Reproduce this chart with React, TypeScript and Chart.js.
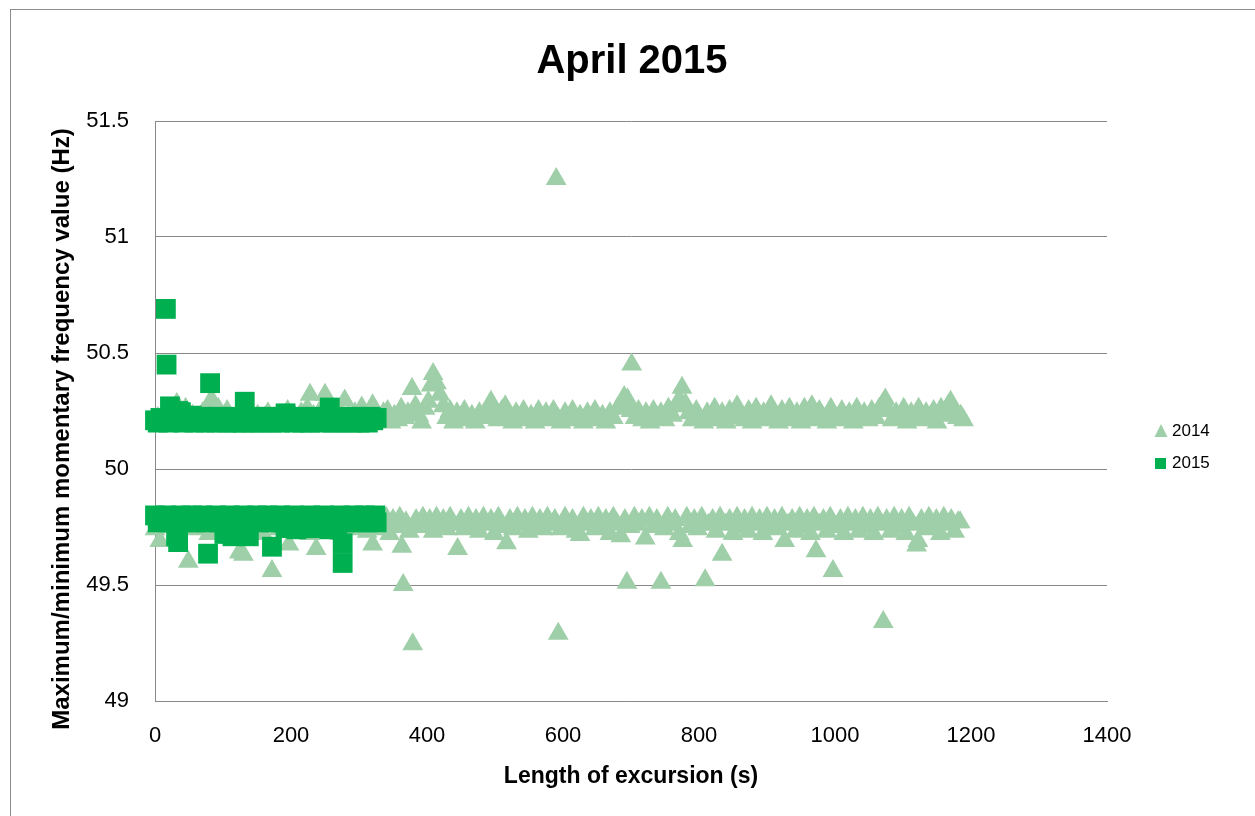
import { useEffect, useRef } from 'react';
import { Chart, registerables } from 'chart.js';

Chart.register(...registerables);

const FONT = '"Liberation Sans", Arial, sans-serif';

const chartTitle = 'April 2015';
const xAxisTitle = 'Length of excursion (s)';
const yAxisTitle = 'Maximum/minimum momentary frequency value (Hz)';
const seriesNames = ['2014', '2015'];
const seriesColors = ['#9ECFA8', '#00B050'];

const xTickValues = [0, 200, 400, 600, 800, 1000, 1200, 1400];
const yTickValues = [49, 49.5, 50, 50.5, 51, 51.5];

// 2014 – upper (maximum) band
const tri14High: [number, number][] = [
  [0, 50.2], [4, 50.22], [9, 50.21], [14, 50.2], [19, 50.23], [24, 50.21], [28, 50.24], [32, 50.28],
  [37, 50.22], [41, 50.2], [45, 50.26], [50, 50.21], [55, 50.23], [60, 50.2], [65, 50.22], [70, 50.24],
  [75, 50.21], [80, 50.27], [83, 50.3], [88, 50.22], [93, 50.26], [97, 50.2], [102, 50.23], [106, 50.25],
  [111, 50.21], [116, 50.2], [121, 50.23], [126, 50.21], [131, 50.24], [136, 50.2], [141, 50.22], [146, 50.21],
  [151, 50.23], [156, 50.2], [161, 50.22], [166, 50.24], [171, 50.21], [176, 50.2], [181, 50.23], [186, 50.21],
  [191, 50.22], [195, 50.25], [200, 50.2], [205, 50.23], [210, 50.21], [215, 50.24], [220, 50.22], [224, 50.26],
  [228, 50.32], [233, 50.23], [238, 50.21], [243, 50.24], [247, 50.27], [250, 50.32], [255, 50.22], [260, 50.2],
  [265, 50.24], [270, 50.21], [275, 50.23], [279, 50.295], [284, 50.22], [289, 50.2], [294, 50.24], [299, 50.21],
  [304, 50.265], [309, 50.22], [314, 50.2], [320, 50.275], [325, 50.23], [330, 50.21], [336, 50.24], [342, 50.25],
  [347, 50.2], [352, 50.23], [357, 50.21], [362, 50.26], [367, 50.22], [372, 50.24], [378, 50.345], [383, 50.27],
  [388, 50.23], [392, 50.2], [397, 50.26], [402, 50.29], [406, 50.36], [409, 50.41], [414, 50.37], [419, 50.32],
  [424, 50.27], [429, 50.22], [434, 50.25], [439, 50.2], [444, 50.24], [449, 50.22], [455, 50.25], [460, 50.21],
  [466, 50.23], [471, 50.2], [477, 50.24], [482, 50.22], [488, 50.25], [494, 50.29], [499, 50.23], [504, 50.21],
  [510, 50.25], [515, 50.27], [520, 50.22], [526, 50.2], [531, 50.24], [537, 50.22], [542, 50.25], [548, 50.21],
  [553, 50.23], [559, 50.2], [564, 50.25], [570, 50.22], [575, 50.24], [581, 50.21], [586, 50.25], [592, 50.22],
  [597, 50.2], [603, 50.24], [608, 50.22], [614, 50.25], [619, 50.21], [625, 50.23], [630, 50.2], [636, 50.24],
  [641, 50.22], [647, 50.25], [652, 50.21], [658, 50.23], [663, 50.2], [669, 50.24], [674, 50.22], [680, 50.26],
  [685, 50.28], [690, 50.31], [695, 50.3], [700, 50.25], [701, 50.45], [706, 50.22], [711, 50.25], [717, 50.21],
  [722, 50.24], [728, 50.2], [733, 50.25], [739, 50.22], [744, 50.24], [750, 50.21], [755, 50.26], [761, 50.23],
  [766, 50.27], [771, 50.3], [775, 50.35], [780, 50.28], [785, 50.24], [790, 50.21], [796, 50.25], [801, 50.22],
  [807, 50.2], [812, 50.24], [818, 50.22], [823, 50.26], [829, 50.21], [834, 50.24], [840, 50.2], [845, 50.25],
  [851, 50.22], [856, 50.27], [862, 50.23], [867, 50.21], [873, 50.25], [878, 50.2], [884, 50.26], [889, 50.22],
  [895, 50.24], [900, 50.21], [906, 50.27], [911, 50.23], [917, 50.2], [922, 50.25], [928, 50.22], [933, 50.26],
  [939, 50.21], [944, 50.24], [950, 50.2], [955, 50.26], [961, 50.22], [966, 50.27], [972, 50.21], [977, 50.25],
  [983, 50.22], [988, 50.2], [994, 50.26], [999, 50.23], [1005, 50.21], [1010, 50.25], [1016, 50.22], [1021, 50.24],
  [1027, 50.2], [1032, 50.26], [1038, 50.22], [1043, 50.24], [1049, 50.21], [1054, 50.25], [1060, 50.22], [1065, 50.26],
  [1070, 50.28], [1074, 50.3], [1079, 50.25], [1084, 50.21], [1090, 50.24], [1095, 50.22], [1101, 50.26], [1106, 50.2],
  [1112, 50.24], [1117, 50.22], [1123, 50.26], [1128, 50.21], [1134, 50.24], [1139, 50.22], [1145, 50.25], [1150, 50.2],
  [1156, 50.26], [1161, 50.23], [1166, 50.27], [1170, 50.29], [1175, 50.25], [1180, 50.22], [1185, 50.23], [1189, 50.21],
  [590, 51.25],
];

// 2014 – lower (minimum) band
const tri14Low: [number, number][] = [
  [0, 49.74], [4, 49.78], [7, 49.69], [11, 49.77], [16, 49.79], [21, 49.75], [26, 49.78], [31, 49.73],
  [36, 49.79], [41, 49.76], [45, 49.78], [49, 49.6], [54, 49.77], [59, 49.74], [64, 49.79], [69, 49.76],
  [74, 49.78], [79, 49.72], [84, 49.79], [89, 49.75], [94, 49.78], [99, 49.73], [104, 49.79], [109, 49.76],
  [114, 49.78], [119, 49.72], [124, 49.64], [130, 49.63], [134, 49.77], [139, 49.74], [144, 49.79], [149, 49.75],
  [154, 49.78], [159, 49.72], [164, 49.79], [168, 49.76], [172, 49.56], [177, 49.78], [182, 49.74], [187, 49.79],
  [192, 49.76], [197, 49.675], [202, 49.78], [207, 49.73], [212, 49.79], [217, 49.75], [222, 49.78], [227, 49.72],
  [232, 49.79], [237, 49.655], [242, 49.76], [247, 49.78], [252, 49.73], [257, 49.79], [262, 49.75], [267, 49.78],
  [272, 49.72], [277, 49.79], [282, 49.76], [287, 49.78], [292, 49.74], [297, 49.79], [302, 49.75], [307, 49.78],
  [312, 49.73], [317, 49.79], [320, 49.675], [325, 49.76], [330, 49.78], [335, 49.74], [340, 49.79], [345, 49.72],
  [350, 49.78], [355, 49.75], [360, 49.79], [363, 49.665], [365, 49.5], [369, 49.77], [374, 49.73], [379, 49.245],
  [384, 49.78], [389, 49.75], [394, 49.79], [399, 49.76], [404, 49.78], [409, 49.73], [414, 49.79], [419, 49.75],
  [424, 49.78], [429, 49.74], [434, 49.79], [439, 49.76], [445, 49.655], [450, 49.78], [455, 49.74], [461, 49.79],
  [466, 49.75], [472, 49.78], [477, 49.73], [483, 49.79], [488, 49.76], [494, 49.78], [499, 49.72], [505, 49.79],
  [510, 49.75], [517, 49.68], [522, 49.78], [527, 49.74], [533, 49.79], [538, 49.76], [544, 49.78], [549, 49.73],
  [555, 49.79], [560, 49.75], [566, 49.78], [571, 49.74], [577, 49.79], [582, 49.76], [588, 49.78], [593, 49.29],
  [597, 49.74], [603, 49.79], [608, 49.75], [614, 49.78], [619, 49.73], [625, 49.715], [630, 49.79], [636, 49.76],
  [641, 49.78], [647, 49.74], [652, 49.79], [658, 49.75], [663, 49.78], [669, 49.72], [674, 49.79], [680, 49.76],
  [685, 49.71], [691, 49.78], [694, 49.51], [699, 49.75], [705, 49.79], [710, 49.76], [716, 49.78], [721, 49.7],
  [727, 49.79], [732, 49.75], [738, 49.78], [744, 49.51], [749, 49.74], [754, 49.79], [760, 49.76], [765, 49.78],
  [771, 49.72], [776, 49.69], [782, 49.79], [787, 49.75], [793, 49.78], [798, 49.74], [804, 49.79], [809, 49.52],
  [814, 49.76], [820, 49.78], [825, 49.73], [831, 49.79], [834, 49.63], [839, 49.76], [845, 49.78], [850, 49.72],
  [856, 49.79], [861, 49.75], [867, 49.78], [872, 49.73], [878, 49.79], [883, 49.76], [889, 49.78], [894, 49.72],
  [900, 49.79], [905, 49.75], [911, 49.78], [916, 49.74], [922, 49.79], [926, 49.69], [931, 49.76], [937, 49.78],
  [942, 49.73], [948, 49.79], [953, 49.75], [959, 49.78], [964, 49.72], [969, 49.79], [972, 49.645], [977, 49.76],
  [983, 49.78], [988, 49.73], [993, 49.79], [997, 49.56], [1002, 49.75], [1008, 49.78], [1013, 49.72], [1019, 49.79],
  [1024, 49.76], [1030, 49.78], [1035, 49.73], [1041, 49.79], [1046, 49.75], [1052, 49.78], [1057, 49.72], [1063, 49.79],
  [1068, 49.76], [1071, 49.34], [1076, 49.78], [1082, 49.73], [1087, 49.79], [1093, 49.75], [1098, 49.78], [1104, 49.72],
  [1109, 49.79], [1115, 49.76], [1120, 49.67], [1122, 49.69], [1127, 49.78], [1133, 49.74], [1138, 49.79], [1144, 49.75],
  [1149, 49.78], [1155, 49.72], [1160, 49.79], [1166, 49.76], [1171, 49.78], [1176, 49.73], [1181, 49.77], [1184, 49.77],
];

// 2015 – upper (maximum) band
const sq15High: [number, number][] = [
  [0, 50.21], [4, 50.2], [8, 50.22], [12, 50.21], [16, 50.69], [17, 50.45], [20, 50.2], [22, 50.27],
  [26, 50.22], [30, 50.21], [34, 50.25], [38, 50.245], [42, 50.2], [46, 50.22], [50, 50.21], [54, 50.23],
  [58, 50.2], [62, 50.22], [66, 50.21], [70, 50.225], [74, 50.2], [78, 50.22], [81, 50.37], [85, 50.21],
  [89, 50.2], [93, 50.225], [97, 50.21], [101, 50.22], [105, 50.2], [109, 50.21], [113, 50.225], [117, 50.2],
  [121, 50.22], [125, 50.21], [129, 50.2], [132, 50.29], [136, 50.22], [140, 50.21], [144, 50.2], [148, 50.225],
  [152, 50.21], [156, 50.2], [160, 50.22], [164, 50.21], [168, 50.225], [172, 50.2], [176, 50.22], [180, 50.21],
  [184, 50.2], [188, 50.225], [192, 50.24], [196, 50.21], [200, 50.22], [204, 50.2], [208, 50.21], [212, 50.225],
  [216, 50.2], [220, 50.22], [224, 50.21], [228, 50.2], [232, 50.225], [236, 50.21], [240, 50.22], [244, 50.2],
  [248, 50.21], [252, 50.225], [257, 50.265], [261, 50.2], [265, 50.22], [269, 50.21], [273, 50.2], [277, 50.225],
  [281, 50.21], [285, 50.22], [289, 50.2], [293, 50.21], [297, 50.225], [301, 50.2], [305, 50.22], [309, 50.21],
  [313, 50.2], [317, 50.225], [321, 50.21], [326, 50.22],
];

// 2015 – lower (minimum) band
const sq15Low: [number, number][] = [
  [0, 49.8], [4, 49.77], [8, 49.79], [12, 49.78], [16, 49.8], [20, 49.77], [24, 49.79], [28, 49.78],
  [31, 49.71], [34, 49.685], [38, 49.8], [42, 49.77], [46, 49.79], [50, 49.78], [54, 49.8], [58, 49.77],
  [62, 49.79], [66, 49.78], [70, 49.8], [74, 49.77], [78, 49.635], [82, 49.79], [86, 49.78], [90, 49.8],
  [94, 49.77], [98, 49.79], [102, 49.72], [106, 49.78], [110, 49.8], [114, 49.71], [118, 49.79], [122, 49.78],
  [126, 49.72], [130, 49.8], [134, 49.77], [138, 49.71], [142, 49.79], [146, 49.78], [150, 49.8], [154, 49.77],
  [158, 49.79], [162, 49.78], [166, 49.8], [170, 49.77], [172, 49.665], [176, 49.79], [180, 49.78], [184, 49.8],
  [188, 49.77], [192, 49.745], [196, 49.79], [200, 49.78], [204, 49.8], [208, 49.74], [212, 49.77], [216, 49.79],
  [220, 49.78], [224, 49.745], [228, 49.8], [232, 49.77], [236, 49.79], [240, 49.745], [244, 49.78], [248, 49.8],
  [252, 49.77], [256, 49.74], [260, 49.79], [264, 49.78], [268, 49.745], [272, 49.8], [276, 49.595], [276, 49.68],
  [280, 49.77], [284, 49.79], [288, 49.78], [292, 49.8], [296, 49.77], [300, 49.79], [304, 49.78], [308, 49.8],
  [312, 49.77], [316, 49.79], [320, 49.78], [324, 49.8], [326, 49.77],
];

const toPoints = (arr: [number, number][]) => arr.map(([x, y]) => ({ x, y }));

const decorPlugin = {
  id: 'decor',
  beforeDraw(chart: any) {
    const ctx = chart.ctx;
    ctx.save();
    ctx.fillStyle = '#ffffff';
    ctx.fillRect(0, 0, chart.width, chart.height);
    ctx.restore();
  },
  afterDraw(chart: any) {
    const ctx = chart.ctx;
    ctx.save();
    // outer chart border
    ctx.strokeStyle = '#8C8C8C';
    ctx.lineWidth = 1;
    ctx.strokeRect(10.5, 9.5, 1400, 1000);
    // title
    ctx.fillStyle = '#000000';
    ctx.font = `bold 40px ${FONT}`;
    ctx.textAlign = 'center';
    ctx.textBaseline = 'middle';
    ctx.fillText(chartTitle, 632, 62);
    // y-axis title
    ctx.save();
    ctx.translate(62, 429);
    ctx.rotate(-Math.PI / 2);
    ctx.font = `bold 24px ${FONT}`;
    ctx.fillText(yAxisTitle, 0, 0);
    ctx.restore();
    // legend
    const items = [
      { label: seriesNames[0], color: seriesColors[0], shape: 'triangle', y: 431 },
      { label: seriesNames[1], color: seriesColors[1], shape: 'square', y: 463 },
    ];
    ctx.font = `17px ${FONT}`;
    ctx.textAlign = 'left';
    for (const it of items) {
      ctx.fillStyle = it.color;
      ctx.beginPath();
      if (it.shape === 'triangle') {
        ctx.moveTo(1161, it.y - 7);
        ctx.lineTo(1167.5, it.y + 6);
        ctx.lineTo(1154.5, it.y + 6);
        ctx.closePath();
      } else {
        ctx.rect(1155, it.y - 5, 11, 11);
      }
      ctx.fill();
      ctx.fillStyle = '#000000';
      ctx.fillText(it.label, 1172, it.y);
    }
    ctx.restore();
  },
};

export default function App() {
  const canvasRef = useRef<HTMLCanvasElement | null>(null);

  useEffect(() => {
    if (!canvasRef.current) return;
    const chart = new Chart(canvasRef.current, {
      type: 'scatter',
      data: {
        datasets: [
          {
            label: seriesNames[0],
            data: toPoints([...tri14High, ...tri14Low]),
            pointStyle: 'triangle',
            pointRadius: 12,
            pointHoverRadius: 12,
            backgroundColor: seriesColors[0],
            borderColor: seriesColors[0],
            borderWidth: 0,
            order: 1,
            clip: false,
          },
          {
            label: seriesNames[1],
            data: toPoints([...sq15High, ...sq15Low]),
            pointStyle: 'rect',
            pointRadius: 14,
            pointHoverRadius: 14,
            backgroundColor: seriesColors[1],
            borderColor: seriesColors[1],
            borderWidth: 0,
            order: 0,
            clip: false,
          },
        ],
      },
      options: {
        responsive: false,
        animation: false,
        events: [],
        devicePixelRatio: 1,
        layout: { padding: { left: 0, right: 148, top: 121, bottom: 0 } },
        plugins: {
          legend: { display: false },
          title: { display: false },
          tooltip: { enabled: false },
        },
        scales: {
          x: {
            type: 'linear',
            min: xTickValues[0],
            max: xTickValues[xTickValues.length - 1],
            afterFit: (scale: any) => {
              scale.height = 115;
            },
            afterBuildTicks: (scale: any) => {
              scale.ticks = xTickValues.map((v) => ({ value: v }));
            },
            ticks: {
              callback: (v: any) => String(v),
              color: '#000000',
              font: { family: FONT, size: 22 },
              padding: 22,
              maxRotation: 0,
            },
            grid: { display: false, drawTicks: false },
            border: { display: true, color: '#898989', width: 1 },
            title: {
              display: true,
              text: xAxisTitle,
              color: '#000000',
              font: { family: FONT, size: 23, weight: 'bold' },
              padding: { top: 0, bottom: 26 },
            },
          },
          y: {
            type: 'linear',
            min: yTickValues[0],
            max: yTickValues[yTickValues.length - 1],
            afterFit: (scale: any) => {
              scale.width = 155;
            },
            afterBuildTicks: (scale: any) => {
              scale.ticks = yTickValues.map((v) => ({ value: v }));
            },
            ticks: {
              callback: (v: any) => String(v),
              color: '#000000',
              font: { family: FONT, size: 22 },
              padding: 26,
            },
            grid: { color: '#898989', lineWidth: 1, drawTicks: false },
            border: { display: true, color: '#898989', width: 1 },
            title: { display: false },
          },
        },
      },
      plugins: [decorPlugin],
    } as any);
    return () => chart.destroy();
  }, []);

  return (
    <div style={{ position: 'fixed', left: 0, top: 0, width: 1255, height: 816, background: '#fff' }}>
      <canvas ref={canvasRef} width={1255} height={816} style={{ display: 'block', width: 1255, height: 816 }} />
    </div>
  );
}
